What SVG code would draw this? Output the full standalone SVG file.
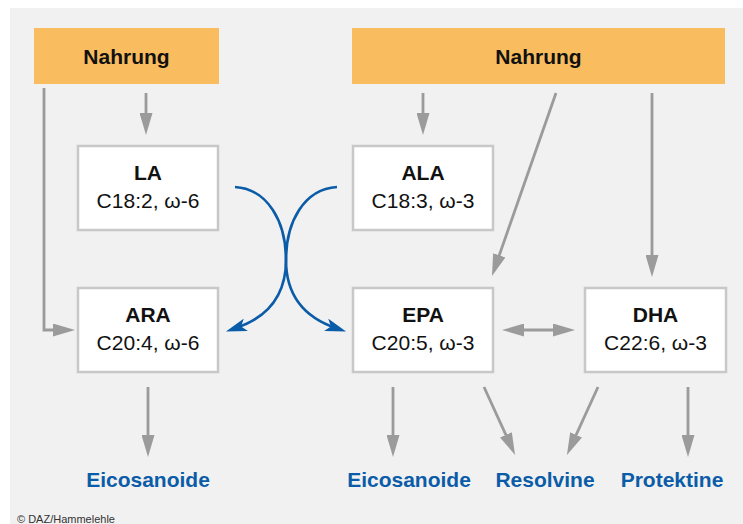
<svg xmlns="http://www.w3.org/2000/svg" width="743" height="524" viewBox="0 0 743 524">
  <style>
    text { font-family: "Liberation Sans", Arial, sans-serif; text-anchor: middle; }
    .food { fill: #f9bd5f; }
    .box { fill: #ffffff; stroke: #c8c8c8; stroke-width: 2.5; }
    .title { font-size: 21px; font-weight: bold; fill: #111111; }
    .sub { font-size: 21px; fill: #111111; }
    .out { font-size: 21px; font-weight: bold; fill: #0b5ca8; }
    .g { fill: none; stroke: #9b9b9b; stroke-width: 2.8; }
    .b { fill: none; stroke: #0b5ca8; stroke-width: 2.6; }
  </style>
  <defs>
    <marker id="ag" viewBox="0 0 22 13" refX="12" refY="6.5" markerWidth="22" markerHeight="13" markerUnits="userSpaceOnUse" orient="auto-start-reverse">
      <path d="M0,0 L22,6.5 L0,13 z" fill="#9b9b9b"/>
    </marker>
    <marker id="ab" viewBox="0 0 21 13" refX="11" refY="6.5" markerWidth="21" markerHeight="13" markerUnits="userSpaceOnUse" orient="auto">
      <path d="M0,0 L21,6.5 L0,13 L5,6.5 z" fill="#0b5ca8"/>
    </marker>
  </defs>

  <rect x="10" y="8" width="733" height="516" fill="#f1f1f1"/>

  <g id="nahrung1">
    <rect class="food" x="34" y="28" width="185" height="56"/>
    <text class="title" x="126.5" y="64">Nahrung</text>
  </g>
  <g id="nahrung2">
    <rect class="food" x="352" y="28" width="373" height="56"/>
    <text class="title" x="538.5" y="64">Nahrung</text>
  </g>

  <g id="la">
    <rect class="box" x="78" y="146" width="140" height="84"/>
    <text class="title" x="148" y="180">LA</text>
    <text class="sub" x="148" y="208">C18:2, ω-6</text>
  </g>
  <g id="ala">
    <rect class="box" x="353" y="146" width="140" height="84"/>
    <text class="title" x="423" y="180">ALA</text>
    <text class="sub" x="423" y="208">C18:3, ω-3</text>
  </g>
  <g id="ara">
    <rect class="box" x="78" y="288" width="140" height="84"/>
    <text class="title" x="148" y="322">ARA</text>
    <text class="sub" x="148" y="350">C20:4, ω-6</text>
  </g>
  <g id="epa">
    <rect class="box" x="353" y="288" width="140" height="84"/>
    <text class="title" x="423" y="322">EPA</text>
    <text class="sub" x="423" y="350">C20:5, ω-3</text>
  </g>
  <g id="dha">
    <rect class="box" x="585" y="288" width="141" height="84"/>
    <text class="title" x="655.5" y="322">DHA</text>
    <text class="sub" x="655.5" y="350">C22:6, ω-3</text>
  </g>

  <g id="eicosanoide1"><text class="out" x="148" y="487">Eicosanoide</text></g>
  <g id="eicosanoide2"><text class="out" x="409" y="487">Eicosanoide</text></g>
  <g id="resolvine"><text class="out" x="545" y="487">Resolvine</text></g>
  <g id="protektine"><text class="out" x="672" y="487">Protektine</text></g>

  <g id="connectors">
    <line class="g" x1="146" y1="93" x2="146" y2="125" marker-end="url(#ag)"/>
    <path class="g" d="M44,88 V330 H65" marker-end="url(#ag)"/>
    <line class="g" x1="423" y1="93" x2="423" y2="125" marker-end="url(#ag)"/>
    <line class="g" x1="556" y1="93" x2="495.3" y2="266.6" marker-end="url(#ag)"/>
    <line class="g" x1="652" y1="93" x2="652" y2="267" marker-end="url(#ag)"/>
    <line class="g" x1="512" y1="330" x2="565" y2="330" marker-start="url(#ag)" marker-end="url(#ag)"/>
    <line class="g" x1="148" y1="387" x2="148" y2="447" marker-end="url(#ag)"/>
    <line class="g" x1="393" y1="387" x2="393" y2="447" marker-end="url(#ag)"/>
    <line class="g" x1="484" y1="387" x2="510.9" y2="445.8" marker-end="url(#ag)"/>
    <line class="g" x1="598" y1="387" x2="571.1" y2="445.8" marker-end="url(#ag)"/>
    <line class="g" x1="688" y1="387" x2="688" y2="447" marker-end="url(#ag)"/>
    <path class="b" d="M235,187 C268,189 286,222 286,260 C286,292 272,316 235.4,328.3" marker-end="url(#ab)"/>
    <path class="b" d="M337,187 C304,189 286,222 286,260 C286,292 300,316 336.6,328.3" marker-end="url(#ab)"/>
  </g>

  <text x="17" y="523" style="font-size:11px;text-anchor:start;fill:#333333">© DAZ/Hammelehle</text>
</svg>
